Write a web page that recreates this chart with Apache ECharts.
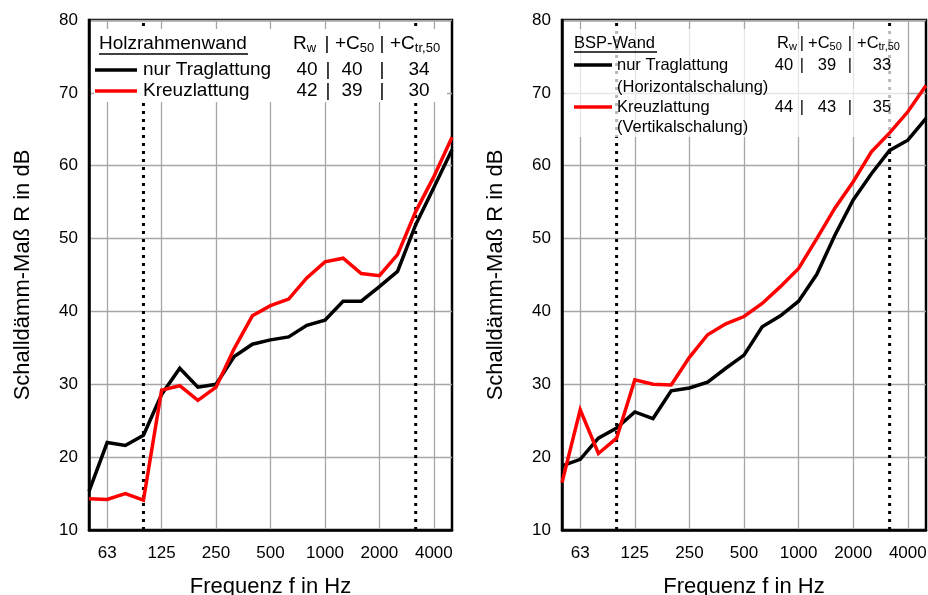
<!DOCTYPE html>
<html>
<head>
<meta charset="utf-8">
<script src="https://cdn.jsdelivr.net/npm/echarts@6/dist/echarts.min.js"></script>
<style>
  html, body { margin: 0; padding: 0; background: #fff; }
  #chart { width: 928px; height: 595px; }
</style>
</head>
<body>
<div id="chart"></div>
<script>
// Terzband-Mittenfrequenzen in Hz
const bands = ['50','63','80','100','125','160','200','250','315','400','500','630','800','1000','1250','1600','2000','2500','3150','4000','5000'];
// beschriftete Oktavbänder (mit Gitterlinie)
const octaveLabels = ['63','125','250','500','1000','2000','4000'];
// Grenzen des bewerteten Frequenzbereichs (gepunktete Linien)
const rangeLimits = ['100','3150'];

// Schalldämm-Maß R in dB – Holzrahmenwand
const holzTraglattung = [15.3,22.0,21.6,23.0,28.6,32.2,29.6,30.0,33.8,35.5,36.1,36.5,38.1,38.8,41.4,41.4,43.4,45.5,51.9,57.0,62.2];
const holzKreuzlattung = [14.3,14.2,15.0,14.1,29.2,29.8,27.8,29.6,34.9,39.4,40.8,41.7,44.6,46.8,47.3,45.2,44.9,47.8,53.7,58.5,63.9];

// Schalldämm-Maß R in dB – BSP-Wand
const bspTraglattung = [18.8,19.7,22.6,24.0,26.2,25.3,29.1,29.5,30.3,32.2,34.0,37.9,39.4,41.4,45.1,50.5,55.3,58.9,62.1,63.5,66.5];
const bspKreuzlattung = [16.5,26.5,20.5,22.6,30.6,30.0,29.9,33.7,36.8,38.3,39.3,41.1,43.4,45.9,50.0,54.2,57.8,61.9,64.5,67.4,71.0];

// Einzahlangaben [Rw, Rw+C50, Rw+Ctr,50]
const holzEinzahl = { trag: [40, 40, 34], kreuz: [42, 39, 30] };
const bspEinzahl = { trag: [40, 39, 33], kreuz: [44, 43, 35] };

const Y_MIN = 10, Y_MAX = 80;
const FONT = 'Liberation Sans, Arial, sans-serif';
const gridBoxes = [
  { left: 89, top: 20, width: 363, height: 510 },
  { left: 562, top: 20, width: 364, height: 510 }
];

function xAxisFor(i) {
  return {
    type: 'category', gridIndex: i, data: bands, boundaryGap: false,
    axisLine: { lineStyle: { color: '#000', width: 2.5 } },
    axisTick: { show: false },
    axisLabel: {
      interval: 0, margin: 15, color: '#000', fontFamily: FONT, fontSize: 17,
      formatter: v => octaveLabels.includes(v) ? v : ''
    },
    splitLine: {
      show: true,
      interval: (idx, v) => octaveLabels.includes(v),
      lineStyle: { color: '#a6a6a6', width: 1.3 }
    },
    name: 'Frequenz f in Hz', nameLocation: 'middle', nameGap: 46,
    nameTextStyle: { color: '#000', fontFamily: FONT, fontSize: 22 }
  };
}
function yAxisFor(i) {
  return {
    type: 'value', gridIndex: i, min: Y_MIN, max: Y_MAX, interval: 10,
    axisLine: { show: true, lineStyle: { color: '#000', width: 2.5 } },
    axisTick: { show: false },
    axisLabel: { margin: 11, color: '#000', fontFamily: FONT, fontSize: 17 },
    splitLine: { lineStyle: { color: '#a6a6a6', width: 1.3 } },
    name: 'Schalldämm-Maß R in dB', nameLocation: 'middle', nameGap: 55, nameRotate: 90,
    nameTextStyle: { color: '#000', fontFamily: FONT, fontSize: 22 }
  };
}
// Messkurven liegen in einer eigenen Ebene über dem Legendenhintergrund
function curve(i, data, color, name) {
  return {
    name, type: 'line', xAxisIndex: i, yAxisIndex: i, data,
    showSymbol: false, symbol: 'none', zlevel: 1, z: 5,
    lineStyle: { color, width: 3.5, join: 'miter' }
  };
}
// senkrechte, gepunktete Begrenzung bei einem Terzband (unter der Legende)
function limitLine(i, band) {
  return {
    type: 'line', xAxisIndex: i, yAxisIndex: i, zlevel: 0, z: 1, silent: true,
    showSymbol: false, symbol: 'none',
    data: [[band, Y_MIN], [band, Y_MAX]],
    lineStyle: { color: '#000', type: [3, 5], width: 3, cap: 'butt' }
  };
}

// Legendentabelle (Überschrift + zwei Zeilen)
const txt = (x, y, text, size, align, extra) => ({
  type: 'text', zlevel: 1, z: 10,
  style: Object.assign({ x, y, text, fill: '#000', font: size + 'px ' + FONT, align: align || 'left', verticalAlign: 'middle' }, extra || {})
});
const subRich = size => ({ s: { fontSize: Math.round(size * 0.68), fontFamily: FONT, padding: [size * 0.45, 0, 0, 0], fill: '#000' } });
function header(xs, y, size) {
  const rich = subRich(size);
  return [
    txt(xs[0], y, 'R{s|w}', size, 'left', { rich }),
    txt(xs[1], y, '|', size, 'center'),
    txt(xs[2], y, '+C{s|50}', size, 'left', { rich }),
    txt(xs[3], y, '|', size, 'center'),
    txt(xs[4], y, '+C{s|tr,50}', size, 'left', { rich })
  ];
}
function valueRow(vals, cx, y, size) {
  return [
    txt(cx[0], y, String(vals[0]), size, 'center'),
    txt(cx[1], y, '|', size, 'center'),
    txt(cx[2], y, String(vals[1]), size, 'center'),
    txt(cx[3], y, '|', size, 'center'),
    txt(cx[4], y, String(vals[2]), size, 'center')
  ];
}
const sample = (x1, x2, y, color) => ({
  type: 'line', zlevel: 1, z: 10, shape: { x1, y1: y, x2, y2: y }, style: { stroke: color, lineWidth: 3.5 }
});

const graphics = [
  // Hintergrund der Legende – Holzrahmenwand
  { type: 'rect', zlevel: 1, z: 2, shape: { x: 94, y: 29, width: 353, height: 73 }, style: { fill: '#fff' } },
  txt(99, 44, 'Holzrahmenwand', 19),
  { type: 'line', zlevel: 1, z: 10, shape: { x1: 99, y1: 54, x2: 248, y2: 54 }, style: { stroke: '#000', lineWidth: 1.5 } },
  ...header([293, 327, 335, 382, 390], 44, 19),
  sample(95, 137, 70, '#000'),
  txt(143, 70, 'nur Traglattung', 19),
  ...valueRow(holzEinzahl.trag, [307, 328, 352, 382, 419], 70, 19),
  sample(95, 137, 91, '#ff0000'),
  txt(143, 91, 'Kreuzlattung', 19),
  ...valueRow(holzEinzahl.kreuz, [307, 328, 352, 382, 419], 91, 19),

  // Hintergrund der Legende – BSP-Wand
  { type: 'rect', zlevel: 1, z: 2, shape: { x: 565, y: 29, width: 342, height: 108 }, style: { fill: 'rgba(255,255,255,0.72)' } },
  txt(574, 43, 'BSP-Wand', 16.5),
  { type: 'line', zlevel: 1, z: 10, shape: { x1: 574, y1: 52, x2: 657, y2: 52 }, style: { stroke: '#000', lineWidth: 1.3 } },
  ...header([777, 802, 808, 850, 857], 43, 16.5),
  sample(574, 612, 65, '#000'),
  txt(617, 65, 'nur Traglattung', 16.5),
  txt(617, 87, '(Horizontalschalung)', 16.5),
  ...valueRow(bspEinzahl.trag, [784, 802, 827, 850, 882], 65, 16.5),
  sample(574, 612, 107, '#ff0000'),
  txt(617, 107, 'Kreuzlattung', 16.5),
  txt(617, 127, '(Vertikalschalung)', 16.5),
  ...valueRow(bspEinzahl.kreuz, [784, 802, 827, 850, 882], 107, 16.5)
];

const chart = echarts.init(document.getElementById('chart'), null, { renderer: 'canvas' });
chart.setOption({
  animation: false,
  backgroundColor: '#fff',
  grid: gridBoxes.map(g => Object.assign({
    show: true, borderColor: '#000', borderWidth: 2.5, backgroundColor: 'transparent',
    containLabel: false, outerBoundsMode: 'none'
  }, g)),
  xAxis: [xAxisFor(0), xAxisFor(1)],
  yAxis: [yAxisFor(0), yAxisFor(1)],
  series: [
    ...rangeLimits.map(b => limitLine(0, b)),
    curve(0, holzTraglattung, '#000', 'nur Traglattung'),
    curve(0, holzKreuzlattung, '#ff0000', 'Kreuzlattung'),
    ...rangeLimits.map(b => limitLine(1, b)),
    curve(1, bspTraglattung, '#000', 'nur Traglattung'),
    curve(1, bspKreuzlattung, '#ff0000', 'Kreuzlattung')
  ],
  graphic: graphics
});
</script>
</body>
</html>
